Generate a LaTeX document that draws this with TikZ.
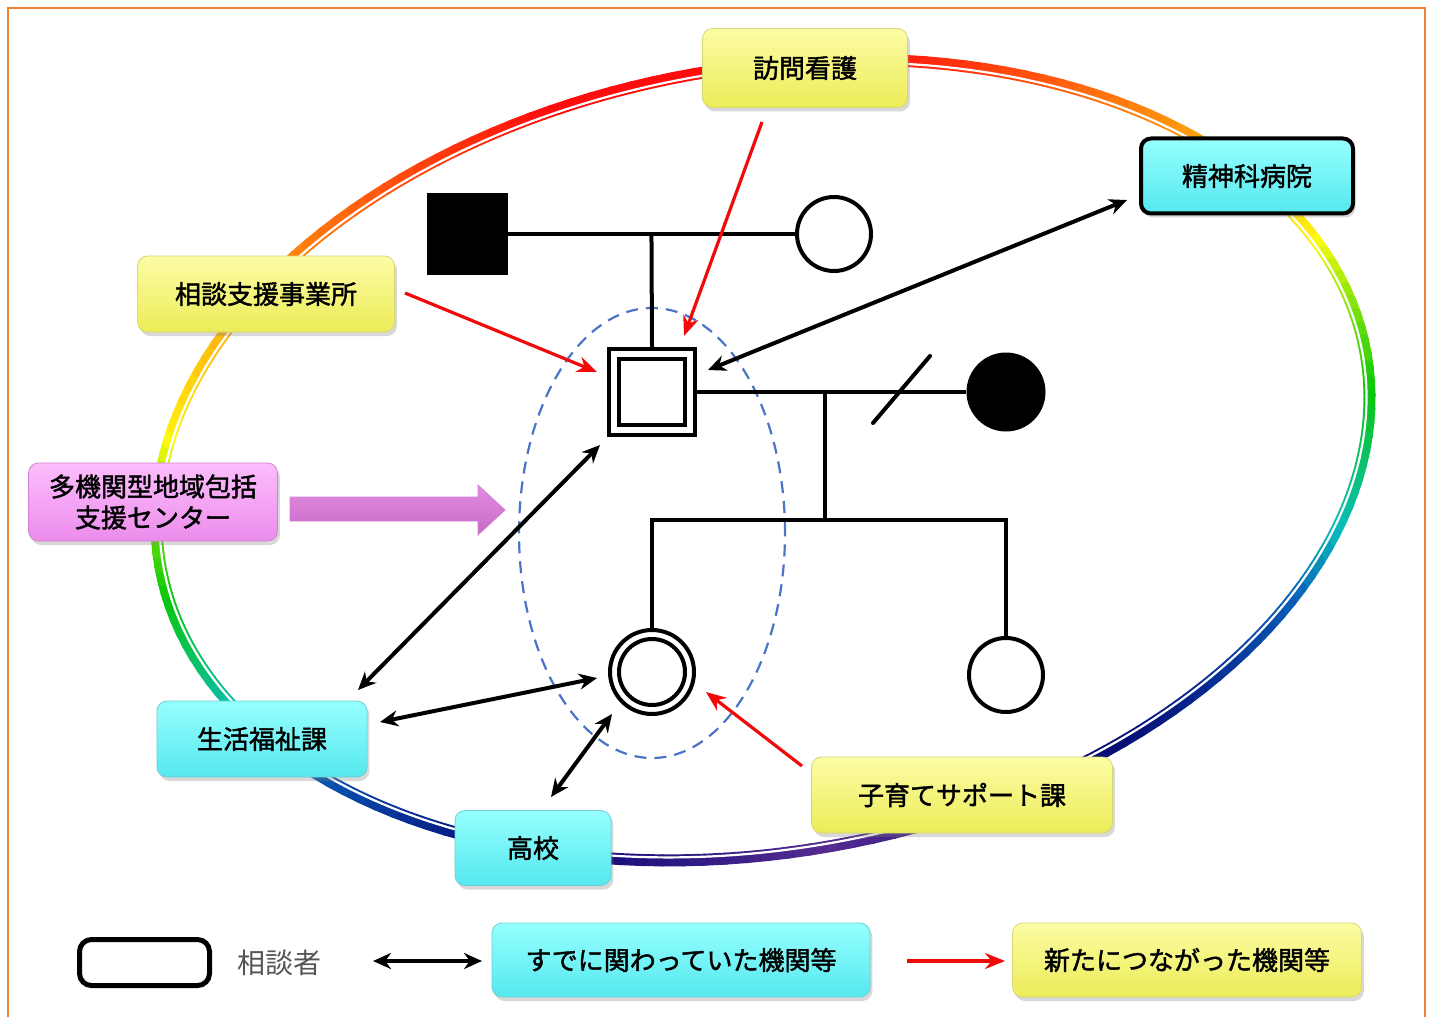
\documentclass[tikz,border=0pt]{standalone}
\usepackage{fontspec}
\newfontfamily\jp{Noto Sans CJK JP}[FakeBold=1.6]
\newfontfamily\jplight{Noto Sans CJK JP}
\usetikzlibrary{arrows.meta,shadows,calc}
\definecolor{framec}{RGB}{240,130,50}
\definecolor{yboxtop}{RGB}{252,252,165}
\definecolor{yboxbot}{RGB}{236,236,88}
\definecolor{yboxedge}{RGB}{215,215,120}
\definecolor{cboxtop}{RGB}{150,255,255}
\definecolor{cboxbot}{RGB}{85,232,238}
\definecolor{cboxedge}{RGB}{110,205,215}
\definecolor{pboxtop}{RGB}{252,190,252}
\definecolor{pboxbot}{RGB}{236,140,236}
\definecolor{pboxedge}{RGB}{210,130,210}
\definecolor{parrtop}{RGB}{225,140,225}
\definecolor{parrmid}{RGB}{252,215,252}
\definecolor{parrbot}{RGB}{200,105,200}
\definecolor{dashc}{RGB}{75,115,200}
\definecolor{arrred}{RGB}{240,10,10}
\definecolor{legtext}{RGB}{85,85,85}
\begin{document}
\begin{tikzpicture}[x=0.5pt,y=-0.5pt,
  box/.style={rounded corners=5pt, inner sep=0pt, align=center,
    font=\jp\fontsize{13pt}{15.5pt}\selectfont,
    drop shadow={shadow xshift=1.2pt, shadow yshift=-2pt, opacity=0.3}},
  ybox/.style={box, top color=yboxtop, bottom color=yboxbot, draw=yboxedge, line width=0.4pt},
  cbox/.style={box, top color=cboxtop, bottom color=cboxbot, draw=cboxedge, line width=0.4pt},
  pbox/.style={box, top color=pboxtop, bottom color=pboxbot, draw=pboxedge, line width=0.4pt},
  gline/.style={line width=2pt},
  barrow/.style={line width=2pt, arrows={Stealth[length=9pt,width=8pt]-Stealth[length=9pt,width=8pt]}},
  rarrow/.style={line width=1.6pt, arrred, arrows={-Stealth[length=10pt,width=8pt]}},
  person/.style={draw, line width=2pt, inner sep=0pt, fill=white}
]
\useasboundingbox (0,0) rectangle (1433,1016);
\fill[white] (0,0) rectangle (1433,1016);
\draw[framec, line width=1.2pt] (8,1020) -- (8,8) -- (1425,8) -- (1425,1020);

% rainbow ellipse
\foreach \t in {0,2,...,358}{
  \pgfmathsetmacro\dd{180-abs(mod(\t+90,360)-180)}
  \pgfmathsetmacro\hh{\dd<15 ? 0 : (\dd<70 ? (\dd-15) : (\dd<95 ? 55+(\dd-70)*2.6 : (\dd<125 ? 120+(\dd-95)*3 : (\dd<150 ? 210+(\dd-125) : 235+(\dd-150)))))}
  \pgfmathsetmacro\bb{\dd<70 ? 1 : (\dd<95 ? 1-(\dd-70)*0.22/25 : (\dd<125 ? 0.78-(\dd-95)*0.06/30 : (\dd<150 ? 0.72-(\dd-125)*0.27/25 : 0.45+(\dd-150)*0.12/30)))}
  \pgfmathsetmacro\ss{\dd<150 ? 0.95 : 0.95-(\dd-150)*0.25/30}
  \pgfmathsetmacro\tn{\t+2}
  \definecolor{segc}{Hsb}{\hh,\ss,\bb}
  \draw[segc, line width=6pt, line cap=round]
    ({763+602.70*cos(\t)+68.07*sin(\t)},{460-106.27*cos(\t)+386.05*sin(\t)}) --
    ({763+602.70*cos(\tn)+68.07*sin(\tn)},{460-106.27*cos(\tn)+386.05*sin(\tn)});
}
\draw[white, line width=1.1pt] plot[domain=0:360, samples=240, smooth]
  ({763+599.74*cos(\x)+67.54*sin(\x)},{460-105.75*cos(\x)+383.1*sin(\x)});

% dashed ellipse around client and daughter
\draw[dashc, line width=1.1pt, dash pattern=on 6pt off 4pt] (652,533) ellipse [x radius=66.5pt, y radius=112.5pt];

% genogram
\node[fill=black, minimum size=40.5pt, inner sep=0pt] (father) at (467,234) {};
\node[person, circle, minimum size=37pt] (mother) at (834,234) {};
\node[person, minimum size=43pt] (client) at (652,392) {};
\node[draw, line width=2pt, minimum size=33pt, inner sep=0pt] (clientin) at (652,392) {};
\node[circle, fill=black, minimum size=39.5pt, inner sep=0pt] (wife) at (1006,392) {};
\node[person, circle, minimum size=42pt] (daughter) at (652,672) {};
\node[draw, circle, line width=2pt, minimum size=33pt, inner sep=0pt] (daughterin) at (652,672) {};
\node[person, circle, minimum size=37pt] (son) at (1006,675) {};
\coordinate (drop) at (825,392);
\coordinate (sib) at (825,520);
\coordinate (divA) at (873,423);
\coordinate (divB) at (930,356);

\draw[gline] (father.east) -- (mother.west);
\draw[gline] ($(father.east)!0.5!(mother.west)$) -- (client.north);
\draw[gline] (client.east) -- (wife.west);
\draw[gline] (drop) -- (sib);
\draw[gline] (daughter.north) -- (daughter.north |- sib) -- (son.north |- sib) -- (son.north);
\draw[gline, line cap=round] (divA) -- (divB);

% boxes
\node[ybox, minimum width=102.5pt, minimum height=39.5pt] (houmon) at (805,68) {訪問看護};
\node[cbox, draw=black, line width=2pt, minimum width=106pt, minimum height=37.5pt] (seishin) at (1247,176) {精神科病院};
\node[ybox, minimum width=128.5pt, minimum height=38pt] (soudan) at (266,294) {相談支援事業所};
\node[pbox, minimum width=124.5pt, minimum height=39pt] (takikan) at (153,502) {多機関型地域包括\\支援センター};
\node[cbox, minimum width=105pt, minimum height=38pt] (seikatsu) at (262,739) {生活福祉課};
\node[cbox, minimum width=78pt, minimum height=37.5pt] (koukou) at (533,848) {高校};
\node[ybox, minimum width=150.5pt, minimum height=38pt] (kosodate) at (962,795) {子育てサポート課};

% pink block arrow
\shade[top color=parrtop, middle color=parrmid, bottom color=parrbot, draw=pboxedge, line width=0.4pt]
  (290,497) -- (478,497) -- (478,485) -- (505,510) -- (478,535) -- (478,521) -- (290,521) -- cycle;

% arrow end points
\coordinate (r1s) at (762,122); \coordinate (r1e) at (684,336);
\coordinate (r2s) at (405,293); \coordinate (r2e) at (597,372);
\coordinate (r3s) at (802,766); \coordinate (r3e) at (706,692);
\coordinate (b1s) at (1127,200); \coordinate (b1e) at (708,370);
\coordinate (b2s) at (600,445); \coordinate (b2e) at (358,690);
\coordinate (b3s) at (380,722); \coordinate (b3e) at (597,678);
\coordinate (b4s) at (551,797); \coordinate (b4e) at (612,714);

\draw[rarrow] (r1s) -- (r1e);
\draw[rarrow] (r2s) -- (r2e);
\draw[rarrow] (r3s) -- (r3e);
\draw[barrow] (b1s) -- (b1e);
\draw[barrow] (b2s) -- (b2e);
\draw[barrow] (b3s) -- (b3e);
\draw[barrow] (b4s) -- (b4e);

% legend
\node[draw, line width=2.5pt, rounded corners=6pt, minimum width=65pt, minimum height=23pt, inner sep=0pt] (legclient) at (144.5,962.5) {};
\node[font=\jplight\fontsize{14pt}{16pt}\selectfont, text=legtext, inner sep=0pt] (legclienttext) at (279,963) {相談者};
\coordinate (lba) at (373,961); \coordinate (lbb) at (482,961);
\draw[barrow] (lba) -- (lbb);
\node[cbox, minimum width=189pt, minimum height=37pt] (legold) at (681,960) {すでに関わっていた機関等};
\coordinate (lra) at (907,961); \coordinate (lrb) at (1005,961);
\draw[rarrow] (lra) -- (lrb);
\node[ybox, minimum width=174.5pt, minimum height=37pt] (legnew) at (1187,960) {新たにつながった機関等};
\end{tikzpicture}
\end{document}
